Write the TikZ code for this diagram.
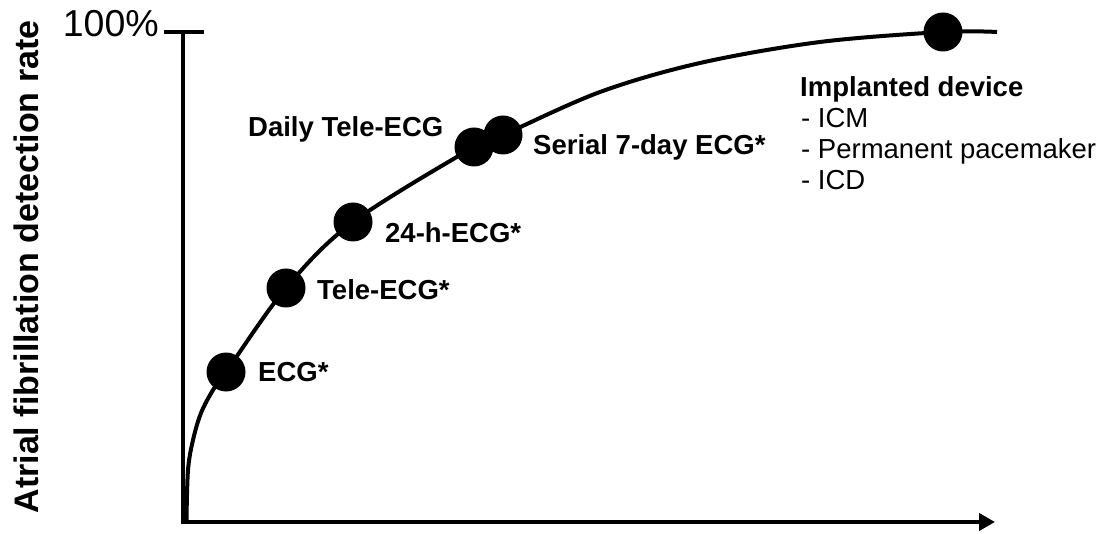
\documentclass[tikz,border=0pt]{standalone}
\usepackage{fontspec}
\setmainfont{Liberation Sans}
\usetikzlibrary{arrows.meta}
\begin{document}
\begin{tikzpicture}[x=1pt,y=1pt,
  axisline/.style={line width=4.5pt},
  curveline/.style={line width=4pt},
  dot/.style={circle,fill=black,minimum size=39pt,inner sep=0pt},
  lbl/.style={anchor=base west,inner sep=0pt,font=\fontsize{27.5}{31}\selectfont\bfseries},
  lst/.style={anchor=base west,inner sep=0pt,font=\fontsize{27.5}{31}\selectfont}]
\useasboundingbox (0,0) rectangle (1107,533);
% axes
\coordinate (ytop) at (183,503);
\coordinate (orig) at (183,11);
\coordinate (xend) at (995,11);
\coordinate (tickL) at (164,501);
\coordinate (tickR) at (204,501);
\draw[axisline] (ytop) -- (orig);
\draw[axisline,-{Triangle[length=16pt,width=17pt]}] ([xshift=-2.25pt]orig) -- (xend);
\draw[axisline] (tickL) -- (tickR);
\node[anchor=base east,inner sep=0pt,font=\fontsize{37.5}{42}\selectfont] (hundred) at (159,496) {100\%};
\node[rotate=90,inner sep=0pt,font=\fontsize{34}{38}\selectfont\bfseries] (ylab) at (26,266) {Atrial fibrillation detection rate};
% curve
\draw[curveline] plot[smooth,tension=0.55] coordinates {(186.5,13) (188,63) (193,93) (201,120) (213,143) (226,161) (286,245) (353,311) (474,386) (503,398) (600,441) (700,470) (820,491) (943,501) (997,501)};
% dots
\node[dot] (ecg) at (226,161) {};
\node[dot] (tele) at (286,245) {};
\node[dot] (h24) at (353,311) {};
\node[dot] (daily) at (474,386) {};
\node[dot] (serial) at (503,398) {};
\node[dot] (impl) at (943,501) {};
% labels
\node[lbl] (ecgL) at (258,152) {ECG*};
\node[lbl] (teleL) at (317,233) {Tele-ECG*};
\node[lbl] (h24L) at (385,290) {24-h-ECG*};
\node[lbl] (dailyL) at (248,396) {Daily Tele-ECG};
\node[lbl] (serialL) at (533,378) {Serial 7-day ECG*};
\node[lbl] (implL) at (800,436) {Implanted device};
\node[lst] (icm) at (801,405) {- ICM};
\node[lst] (ppm) at (801,374) {- Permanent pacemaker};
\node[lst] (icd) at (801,343) {- ICD};
\end{tikzpicture}
\end{document}
